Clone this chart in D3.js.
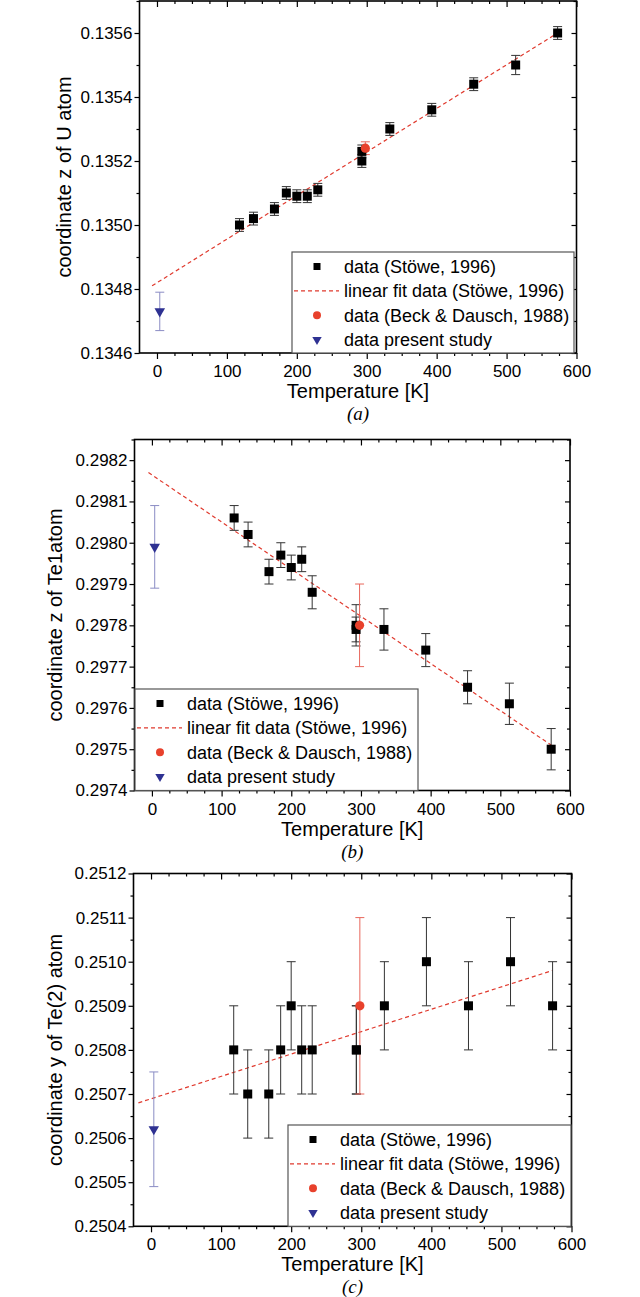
<!DOCTYPE html>
<html>
<head>
<meta charset="utf-8">
<script src="https://cdn.jsdelivr.net/npm/d3@7"></script>
<style>
  body { margin: 0; background: #fff; }
</style>
</head>
<body>
<svg id="chart"></svg>
<script>

// temperatures of the Stöwe (1996) measurements, shared by the three panels
const tempStowe = [118, 138, 168, 185, 200, 215, 230, 293, 293, 333, 393, 453, 513, 573];

// (a) coordinate z of U
const zU     = [0.13500, 0.13502, 0.13505, 0.13510, 0.13509, 0.13509, 0.13511, 0.13520, 0.13523, 0.13530, 0.13536, 0.13544, 0.13550, 0.13560];
const zUErr  = [0.00002, 0.00002, 0.00002, 0.00002, 0.00002, 0.00002, 0.00002, 0.00002, 0.00002, 0.00002, 0.00002, 0.00002, 0.00003, 0.00002];
// (b) coordinate z of Te1
const zTe1    = [0.29806, 0.29802, 0.29793, 0.29797, 0.29794, 0.29796, 0.29788, 0.29780, 0.29779, 0.29779, 0.29774, 0.29765, 0.29761, 0.29750];
const zTe1Err = [0.00003, 0.00003, 0.00003, 0.00003, 0.00003, 0.00003, 0.00004, 0.00005, 0.00003, 0.00005, 0.00004, 0.00004, 0.00005, 0.00005];
// (c) coordinate y of Te(2)
const yTe2    = [0.2508, 0.2507, 0.2507, 0.2508, 0.2509, 0.2508, 0.2508, 0.2508, 0.2508, 0.2509, 0.2510, 0.2509, 0.2510, 0.2509];
const yTe2Err = [0.0001, 0.0001, 0.0001, 0.0001, 0.0001, 0.0001, 0.0001, 0.0001, 0.0001, 0.0001, 0.0001, 0.0001, 0.0001, 0.0001];

// Beck & Dausch (1988), one point per panel
const tempBeck = 298;
const beckVal  = [0.13524, 0.29780, 0.2509];
const beckErr  = [0.00002, 0.00010, 0.0002];

// present study, one point per panel
const tempPresent = 4;
const presentVal  = [0.13473, 0.29799, 0.25062];
const presentErr  = [0.00006, 0.00010, 0.00013];

// linear fits (end points)
const fitTemp = [[-7, 573], [-5, 573], [-18, 573]];
const fitVal  = [[0.13481, 0.13560], [0.29817, 0.29751], [0.25068, 0.25098]];

// axes
const xDomain = [-25, 600];
const xTicks = [0, 100, 200, 300, 400, 500, 600];
const yDomains = [[0.1346, 0.1357], [0.2974, 0.29825], [0.2504, 0.2512]];
const yTicksA = [0.1346, 0.1348, 0.1350, 0.1352, 0.1354, 0.1356];
const yTicksB = [0.2974, 0.2975, 0.2976, 0.2977, 0.2978, 0.2979, 0.2980, 0.2981, 0.2982];
const yTicksC = [0.2504, 0.2505, 0.2506, 0.2507, 0.2508, 0.2509, 0.2510, 0.2511, 0.2512];
const yMinorStep = [0.0001, 0.00005, 0.00005];

const yTitles = ["coordinate z of U atom", "coordinate z of Te1atom", "coordinate y of Te(2) atom"];
const xTitle = "Temperature [K]";
const captions = ["(a)", "(b)", "(c)"];
const legendLabels = ["data (Stöwe, 1996)", "linear fit data (Stöwe, 1996)", "data (Beck & Dausch, 1988)", "data present study"];

let font_family = "'Liberation Sans', Arial, sans-serif";

// frame positions of the three panels
const panels = [
    { left: 139.5, right: 576.5, top: 1,     bottom: 353,    yTicks: yTicksA, titleX: 64, legend: { left: 292, right: 574, top: 252 } },
    { left: 134.5, right: 570,   top: 439.5, bottom: 790.5,  yTicks: yTicksB, titleX: 55, legend: { left: 135, right: 418, top: 689 } },
    { left: 133.5, right: 571.5, top: 873.5, bottom: 1226.3, yTicks: yTicksC, titleX: 55, legend: { left: 288, right: 571, top: 1125 } }
];
const series = [
    { val: zU,   err: zUErr },
    { val: zTe1, err: zTe1Err },
    { val: yTe2, err: yTe2Err }
];

const svg = d3.select("#chart")
    .attr("width", 640)
    .attr("height", 1297)
    .style("background-color", "white");

function styleAxis(g, fontSize) {
    g.select(".domain").remove();
    g.selectAll("line").attr("stroke", "black").attr("stroke-width", 1.2);
    g.selectAll("text")
        .attr("font-family", font_family)
        .attr("font-size", fontSize + "px")
        .attr("fill", "black");
}

function errorBar(g, x, y, t, v, e, color) {
    let cx = x(t);
    g.append("line")
        .attr("x1", cx).attr("x2", cx)
        .attr("y1", y(v - e)).attr("y2", y(v + e))
        .attr("stroke", color).attr("stroke-width", 1);
    [v - e, v + e].forEach(function (w) {
        g.append("line")
            .attr("x1", cx - 4.5).attr("x2", cx + 4.5)
            .attr("y1", y(w)).attr("y2", y(w))
            .attr("stroke", color).attr("stroke-width", 1);
    });
}

function drawPanel(i) {
    let p = panels[i];
    let x = d3.scaleLinear().domain(xDomain).range([p.left, p.right]);
    let y = d3.scaleLinear().domain(yDomains[i]).range([p.bottom, p.top]);
    let g = svg.append("g");

    let xMinor = d3.range(0, 601, 25).filter(d => d % 100 !== 0);
    let yMinor = d3.range(yDomains[i][0], yDomains[i][1] + 1e-9, yMinorStep[i])
        .filter(d => !p.yTicks.some(t => Math.abs(t - d) < 1e-9));
    let fmt = d3.format(".4f");

    // bottom / left: ticks outward with labels
    g.append("g").attr("transform", "translate(0," + p.bottom + ")")
        .call(d3.axisBottom(x).tickValues(xTicks).tickSize(6).tickPadding(6).tickFormat(d3.format("d")))
        .call(a => styleAxis(a, 17));
    g.append("g").attr("transform", "translate(0," + p.bottom + ")")
        .call(d3.axisBottom(x).tickValues(xMinor).tickSize(3).tickFormat(""))
        .call(a => styleAxis(a, 17));
    g.append("g").attr("transform", "translate(" + p.left + ",0)")
        .call(d3.axisLeft(y).tickValues(p.yTicks).tickSize(5).tickPadding(2).tickFormat(fmt))
        .call(a => styleAxis(a, 17));
    g.append("g").attr("transform", "translate(" + p.left + ",0)")
        .call(d3.axisLeft(y).tickValues(yMinor).tickSize(3).tickFormat(""))
        .call(a => styleAxis(a, 17));

    // top / right: ticks inward, no labels
    g.append("g").attr("transform", "translate(0," + p.top + ")")
        .call(d3.axisTop(x).tickValues(xTicks).tickSize(-6).tickFormat(""))
        .call(a => styleAxis(a, 17));
    g.append("g").attr("transform", "translate(0," + p.top + ")")
        .call(d3.axisTop(x).tickValues(xMinor).tickSize(-3).tickFormat(""))
        .call(a => styleAxis(a, 17));
    g.append("g").attr("transform", "translate(" + p.right + ",0)")
        .call(d3.axisRight(y).tickValues(p.yTicks).tickSize(-5).tickFormat(""))
        .call(a => styleAxis(a, 17));
    g.append("g").attr("transform", "translate(" + p.right + ",0)")
        .call(d3.axisRight(y).tickValues(yMinor).tickSize(-3).tickFormat(""))
        .call(a => styleAxis(a, 17));

    // frame
    g.append("rect")
        .attr("x", p.left).attr("y", p.top)
        .attr("width", p.right - p.left).attr("height", p.bottom - p.top)
        .attr("fill", "none").attr("stroke", "black").attr("stroke-width", 1.6);

    // linear fit
    g.append("line")
        .attr("x1", x(fitTemp[i][0])).attr("y1", y(fitVal[i][0]))
        .attr("x2", x(fitTemp[i][1])).attr("y2", y(fitVal[i][1]))
        .attr("stroke", "#e03a2e").attr("stroke-width", 1.2)
        .attr("stroke-dasharray", "4,3");

    // error bars
    let s = series[i];
    tempStowe.forEach(function (t, k) {
        errorBar(g, x, y, t, s.val[k], s.err[k], "#333");
    });
    errorBar(g, x, y, tempBeck, beckVal[i], beckErr[i], "#e8675c");
    errorBar(g, x, y, tempPresent, presentVal[i], presentErr[i], "#8a8cc4");

    // markers
    g.selectAll(".sq").data(tempStowe).enter().append("rect")
        .attr("x", (t) => x(t) - 4.5)
        .attr("y", (t, k) => y(s.val[k]) - 4.5)
        .attr("width", 9).attr("height", 9)
        .attr("fill", "black");
    g.append("circle")
        .attr("cx", x(tempBeck)).attr("cy", y(beckVal[i]))
        .attr("r", 4.6).attr("fill", "#e8412c");
    g.append("path")
        .attr("d", d3.symbol(d3.symbolTriangle, 48)())
        .attr("transform", "translate(" + x(tempPresent) + "," + y(presentVal[i]) + ") rotate(180)")
        .attr("fill", "#2e3192");

    // axis titles and caption
    let midX = (p.left + p.right) / 2;
    g.append("text")
        .attr("x", midX).attr("y", p.bottom + 45)
        .attr("text-anchor", "middle")
        .attr("font-family", font_family).attr("font-size", "20px")
        .text(xTitle);
    g.append("text")
        .attr("transform", "translate(" + p.titleX + "," + ((p.top + p.bottom) / 2) + ") rotate(-90)")
        .attr("dy", "0.35em")
        .attr("text-anchor", "middle")
        .attr("font-family", font_family).attr("font-size", "20px")
        .text(yTitles[i]);
    g.append("text")
        .attr("x", midX).attr("y", p.bottom + 67)
        .attr("text-anchor", "middle")
        .attr("font-family", "'Liberation Serif', 'Times New Roman', serif")
        .attr("font-style", "italic").attr("font-size", "19px")
        .text(captions[i]);

    // legend
    let L = p.legend;
    let lg = g.append("g");
    lg.append("rect")
        .attr("x", L.left).attr("y", L.top)
        .attr("width", L.right - L.left).attr("height", p.bottom - L.top)
        .attr("fill", "white").attr("stroke", "#555").attr("stroke-width", 1.2);
    let rowY = (r) => L.top + 14.5 + r * 24.4;
    let mx = L.left + 25;
    lg.append("rect")
        .attr("x", mx - 3.5).attr("y", rowY(0) - 3.5)
        .attr("width", 7).attr("height", 7).attr("fill", "black");
    lg.append("line")
        .attr("x1", L.left + 2).attr("x2", L.left + 47)
        .attr("y1", rowY(1)).attr("y2", rowY(1))
        .attr("stroke", "#e03a2e").attr("stroke-width", 1.2)
        .attr("stroke-dasharray", "4,3");
    lg.append("circle")
        .attr("cx", mx).attr("cy", rowY(2)).attr("r", 4).attr("fill", "#e8412c");
    lg.append("path")
        .attr("d", d3.symbol(d3.symbolTriangle, 38)())
        .attr("transform", "translate(" + mx + "," + rowY(3) + ") rotate(180)")
        .attr("fill", "#2e3192");
    legendLabels.forEach(function (lab, r) {
        lg.append("text")
            .attr("x", L.left + 52).attr("y", rowY(r))
            .attr("dy", "0.35em")
            .attr("font-family", font_family).attr("font-size", "18px")
            .text(lab);
    });
}

for (let i = 0; i < 3; i++) {
    drawPanel(i);
}
</script>
</body>
</html>
